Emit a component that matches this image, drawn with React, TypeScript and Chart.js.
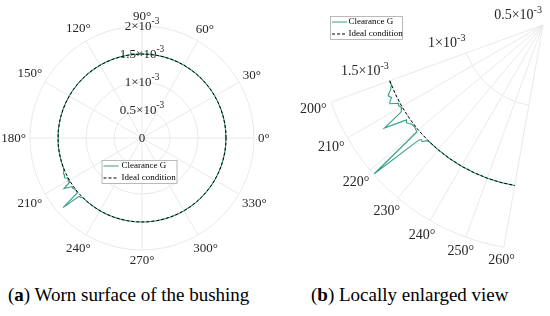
import React, { useEffect, useRef } from "react";
import { Chart, registerables } from "chart.js";

Chart.register(...registerables);

// ---------------- data ----------------
// angles (deg) at which the nominal bushing circle is sampled
const ringAngles = [
  0, 5, 10, 15, 20, 25, 30, 35, 40, 45, 50, 55, 60, 65, 70, 75, 80, 85, 90, 95,
  100, 105, 110, 115, 120, 125, 130, 135, 140, 145, 150, 155, 160, 165, 170, 175,
  180, 185, 190, 195, 200, 205, 210, 215, 220, 225, 230, 235, 240, 245, 250, 255,
  260, 265, 270, 275, 280, 285, 290, 295, 300, 305, 310, 315, 320, 325, 330, 335,
  340, 345, 350, 355, 360,
];
// ideal (nominal) clearance, m
const idealClearance = 1.5e-3;
// worn zone: measured clearance G
const wornAngles = [
  200, 201.5, 203, 204, 204.7, 205.6, 206.5, 207.2, 208.4, 209.2, 210.3, 211.5,
  213.0, 214.8, 215.6, 216.2, 217.0, 218.5, 220.3, 221.4, 222.8, 223.3, 224.0,
  224.7, 225.5,
];
const wornClearance = [
  1.503e-3, 1.5e-3, 1.515e-3, 1.535e-3, 1.544e-3, 1.53e-3, 1.55e-3, 1.556e-3,
  1.51e-3, 1.515e-3, 1.505e-3, 1.52e-3, 1.66e-3, 1.52e-3, 1.53e-3, 1.524e-3,
  1.51e-3, 1.505e-3, 1.515e-3, 1.88e-3, 1.54e-3, 1.525e-3, 1.53e-3, 1.51e-3,
  1.5e-3,
];

const seriesLabels = ["Clearance G", "Ideal condition"];

const fullThetaTicks = [0, 30, 60, 90, 120, 150, 180, 210, 240, 270, 300, 330];
const fullRTicks = [0, 0.5e-3, 1e-3, 1.5e-3, 2e-3];
const fullRLabels = [
  ["0", ""],
  ["0.5×10", "-3"],
  ["1×10", "-3"],
  ["1.5×10", "-3"],
  ["2×10", "-3"],
];

const zoomThetaTicks = [200, 210, 220, 230, 240, 250, 260];
const zoomRTicks = [0.5e-3, 1e-3, 1.5e-3];
const zoomRLabels = [
  ["0.5×10", "-3"],
  ["1×10", "-3"],
  ["1.5×10", "-3"],
];

const captionA = ["a", " Worn surface of the bushing"];
const captionB = ["b", " Locally enlarged view"];

// ---------------- styling ----------------
const GREEN = "#36a086";
const GRID = "#e9e9e9";
const TEXT = "#262626";
const FONT = '"Liberation Serif", "Times New Roman", serif';

type Pt = [number, number];

function clearanceSeries(): Pt[] {
  const a0 = wornAngles[0];
  const a1 = wornAngles[wornAngles.length - 1];
  const pts: Pt[] = [];
  ringAngles.forEach((a) => {
    if (a < a0 || a > a1) pts.push([a, idealClearance]);
  });
  wornAngles.forEach((a, i) => pts.push([a, wornClearance[i]]));
  pts.sort((p, q) => p[0] - q[0]);
  return pts;
}

function idealSeries(): Pt[] {
  return ringAngles.map((a) => [a, idealClearance] as Pt);
}

function toXY(pts: Pt[], rMin: number) {
  return pts.map(([a, r]) => {
    const t = (a * Math.PI) / 180;
    return { x: (r - rMin) * Math.cos(t), y: (r - rMin) * Math.sin(t) };
  });
}

type PolarCfg = {
  rMin: number;
  rMax: number;
  thetaStart: number;
  thetaEnd: number;
  rTicks: number[];
  rLabels: string[][];
  thetaTicks: number[];
  thetaFont: number;
  rFont: number;
  rLabelMode: "center" | "ray";
  thetaGap: number;
  legend: { x: number; y: number; w: number; font: number; row: number; sx0: number; sx1: number; tx: number };
};

function drawSup(
  ctx: CanvasRenderingContext2D,
  main: string,
  sup: string,
  x: number,
  y: number,
  size: number,
  align: "center" | "right",
  baseline: CanvasTextBaseline
) {
  const supSize = size * 0.72;
  ctx.font = `${size}px ${FONT}`;
  const wm = ctx.measureText(main).width;
  ctx.font = `${supSize}px ${FONT}`;
  const ws = sup ? ctx.measureText(sup).width : 0;
  const total = wm + ws;
  const x0 = align === "center" ? x - total / 2 : x - total;
  ctx.textAlign = "left";
  ctx.textBaseline = baseline;
  ctx.font = `${size}px ${FONT}`;
  ctx.fillText(main, x0, y);
  if (sup) {
    ctx.font = `${supSize}px ${FONT}`;
    ctx.fillText(sup, x0 + wm, y - size * 0.42);
  }
}

function polarPlugin(cfg: PolarCfg) {
  return {
    id: "polarGrid",
    beforeDatasetsDraw(chart: any) {
      const ctx: CanvasRenderingContext2D = chart.ctx;
      const xs = chart.scales.x;
      const ys = chart.scales.y;
      const cx = xs.getPixelForValue(0);
      const cy = ys.getPixelForValue(0);
      const k = (xs.getPixelForValue(1e-3) - cx) / 1e-3;
      const R = (r: number) => (r - cfg.rMin) * k;
      const full = cfg.thetaEnd - cfg.thetaStart >= 360;
      const rad = (d: number) => (d * Math.PI) / 180;
      ctx.save();
      ctx.strokeStyle = GRID;
      ctx.lineWidth = 1;
      const circles = cfg.rTicks.filter((r) => r > cfg.rMin && r < cfg.rMax);
      circles.push(cfg.rMax);
      circles.forEach((r) => {
        ctx.beginPath();
        if (full) ctx.arc(cx, cy, R(r), 0, Math.PI * 2);
        else ctx.arc(cx, cy, R(r), -rad(cfg.thetaEnd), -rad(cfg.thetaStart));
        ctx.stroke();
      });
      const Rout = R(cfg.rMax);
      cfg.thetaTicks.forEach((t) => {
        ctx.beginPath();
        ctx.moveTo(cx, cy);
        ctx.lineTo(cx + Rout * Math.cos(rad(t)), cy - Rout * Math.sin(rad(t)));
        ctx.stroke();
      });
      // theta labels
      ctx.fillStyle = TEXT;
      ctx.font = `${cfg.thetaFont}px ${FONT}`;
      ctx.textAlign = "center";
      ctx.textBaseline = "middle";
      cfg.thetaTicks.forEach((t) => {
        const s = `${t}°`;
        const w = ctx.measureText(s).width;
        const h = cfg.thetaFont * 0.9;
        const c = Math.cos(rad(t));
        const sn = Math.sin(rad(t));
        const ext = Math.abs(c) * (w / 2) + Math.abs(sn) * (h / 2);
        const rr = Rout + cfg.thetaGap + ext;
        ctx.fillText(s, cx + rr * c, cy - rr * sn + 0.5);
      });
      // r labels
      cfg.rTicks.forEach((r, i) => {
        const [main, sup] = cfg.rLabels[i];
        if (cfg.rLabelMode === "center") {
          drawSup(ctx, main, sup, cx, cy - R(r) + 1, cfg.rFont, "center", "middle");
        } else {
          const t = rad(cfg.thetaStart);
          const px = cx + R(r) * Math.cos(t);
          const py = cy - R(r) * Math.sin(t);
          drawSup(ctx, main, sup, px - 1, py - 6, cfg.rFont, "right", "alphabetic");
        }
      });
      ctx.restore();
    },
    afterDatasetsDraw(chart: any) {
      const ctx: CanvasRenderingContext2D = chart.ctx;
      const L = cfg.legend;
      const ds = chart.data.datasets;
      ctx.save();
      ctx.font = `${L.font}px ${FONT}`;
      const h = 5.5 + L.row + 5.5;
      ctx.fillStyle = "#ffffff";
      ctx.fillRect(L.x, L.y, L.w, h);
      ctx.strokeStyle = "#a8a8a8";
      ctx.lineWidth = 0.8;
      ctx.strokeRect(L.x + 0.5, L.y + 0.5, L.w, h);
      ds.forEach((d: any, i: number) => {
        const yy = L.y + 5.5 + i * L.row + 0.5;
        ctx.beginPath();
        ctx.strokeStyle = d.borderColor;
        ctx.lineWidth = 1;
        ctx.setLineDash(d.borderDash || []);
        ctx.moveTo(L.x + L.sx0, yy);
        ctx.lineTo(L.x + L.sx1, yy);
        ctx.stroke();
        ctx.setLineDash([]);
        ctx.fillStyle = "#000";
        ctx.textAlign = "left";
        ctx.textBaseline = "middle";
        ctx.fillText(d.label, L.x + L.tx, yy);
      });
      ctx.restore();
    },
  };
}

type PanelProps = {
  left: number;
  width: number;
  height: number;
  cfg: PolarCfg;
  xRange: [number, number];
  yRange: [number, number];
  filter?: [number, number];
};

function PolarPanel({ left, width, height, cfg, xRange, yRange, filter }: PanelProps) {
  const ref = useRef<HTMLCanvasElement | null>(null);
  useEffect(() => {
    let chart: Chart | null = null;
    let dead = false;
    const build = () => {
      if (dead || !ref.current) return;
      let clr = clearanceSeries();
      let ideal = idealSeries();
      if (filter) {
        clr = clr.filter((p) => p[0] >= filter[0] && p[0] <= filter[1]);
        ideal = ideal.filter((p) => p[0] >= filter[0] && p[0] <= filter[1]);
      }
      chart = new Chart(ref.current, {
        type: "scatter",
        data: {
          datasets: [
            {
              label: seriesLabels[0],
              data: toXY(clr, cfg.rMin),
              showLine: true,
              borderColor: GREEN,
              borderWidth: 1.1,
              pointRadius: 0,
              order: 1,
            } as any,
            {
              label: seriesLabels[1],
              data: toXY(ideal, cfg.rMin),
              showLine: true,
              borderColor: "#000000",
              borderDash: [3, 2],
              borderWidth: 1,
              pointRadius: 0,
              order: 0,
            } as any,
          ],
        },
        options: {
          animation: false,
          responsive: false,
          maintainAspectRatio: false,
          events: [],
          layout: { padding: 0 },
          scales: {
            x: { type: "linear", display: false, min: xRange[0], max: xRange[1] },
            y: { type: "linear", display: false, min: yRange[0], max: yRange[1] },
          },
          plugins: { legend: { display: false }, tooltip: { enabled: false } },
        },
        plugins: [polarPlugin(cfg)],
      });
    };
    const fonts: any = (document as any).fonts;
    if (fonts && fonts.load) {
      Promise.all([
        fonts.load(`13px "Liberation Serif"`),
        fonts.load(`bold 13px "Liberation Serif"`),
      ])
        .catch(() => null)
        .then(build);
    } else {
      build();
    }
    return () => {
      dead = true;
      if (chart) chart.destroy();
    };
  }, []);
  return (
    <canvas
      ref={ref}
      width={width}
      height={height}
      style={{ position: "absolute", left, top: 0, width, height }}
    />
  );
}

export default function App() {
  const H = 282;
  // left panel: centre (142,138), 56 px per 1e-3
  const kL = 56 / 1e-3;
  const leftCfg: PolarCfg = {
    rMin: 0,
    rMax: 2e-3,
    thetaStart: 0,
    thetaEnd: 360,
    rTicks: fullRTicks,
    rLabels: fullRLabels,
    thetaTicks: fullThetaTicks,
    thetaFont: 13,
    rFont: 13,
    rLabelMode: "center",
    thetaGap: 4,
    legend: { x: 101.5, y: 160, w: 75, font: 9, row: 12, sx0: 2, sx1: 17, tx: 20 },
  };
  // right panel: apex at (268,25) local, 163 px per 1e-3 from r = 0.5e-3
  const kR = 163 / 1e-3;
  const rightCfg: PolarCfg = {
    rMin: 0.5e-3,
    rMax: 1.885e-3,
    thetaStart: 200,
    thetaEnd: 260,
    rTicks: zoomRTicks,
    rLabels: zoomRLabels,
    thetaTicks: zoomThetaTicks,
    thetaFont: 14,
    rFont: 14,
    rLabelMode: "ray",
    thetaGap: 4,
    legend: { x: 55, y: 16, w: 72, font: 9, row: 12, sx0: 2, sx1: 17, tx: 18.5 },
  };
  const capStyle: React.CSSProperties = {
    position: "absolute",
    top: 284,
    fontFamily: FONT,
    fontSize: 19,
    lineHeight: "22px",
    color: "#000",
    whiteSpace: "nowrap",
  };
  return (
    <div
      style={{
        position: "fixed",
        left: 0,
        top: 0,
        width: 550,
        height: 316,
        background: "#ffffff",
        overflow: "hidden",
      }}
    >
      <PolarPanel
        left={0}
        width={275}
        height={H}
        cfg={leftCfg}
        xRange={[-142 / kL, (275 - 142) / kL]}
        yRange={[-(H - 138) / kL, 138 / kL]}
      />
      <PolarPanel
        left={275}
        width={275}
        height={H}
        cfg={rightCfg}
        xRange={[-268 / kR, (275 - 268) / kR]}
        yRange={[-(H - 25) / kR, 25 / kR]}
        filter={[200, 260]}
      />
      <div style={{ ...capStyle, left: 8 }}>
        (<b>{captionA[0]}</b>){captionA[1]}
      </div>
      <div style={{ ...capStyle, left: 311 }}>
        (<b>{captionB[0]}</b>){captionB[1]}
      </div>
    </div>
  );
}
